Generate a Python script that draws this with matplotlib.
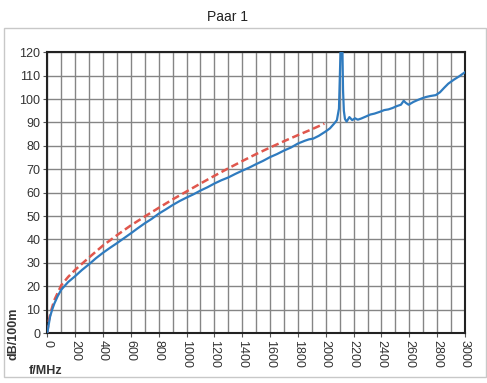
import matplotlib
matplotlib.use("Agg")
import matplotlib.pyplot as plt
from matplotlib.patches import Rectangle
import numpy as np

plt.rcParams["font.family"] = ["Liberation Sans", "DejaVu Sans"]

# measured attenuation (blue)
meas_f = [0, 10, 20, 35, 50, 75, 100, 150, 200, 250, 300, 350, 400, 450, 500,
          550, 600, 650, 700, 750, 800, 850, 900, 950, 1000, 1050, 1100, 1150,
          1200, 1250, 1300, 1350, 1400, 1450, 1500, 1550, 1600, 1650, 1700,
          1750, 1800, 1850, 1880, 1910, 1950, 2000, 2030, 2060, 2080, 2095,
          2105, 2112, 2118, 2124, 2130, 2138, 2150, 2170, 2190, 2210, 2230,
          2255, 2290, 2320, 2350, 2390, 2420, 2450, 2480, 2510, 2540, 2560,
          2575, 2595, 2630, 2660, 2690, 2720, 2750, 2790, 2820, 2850, 2880,
          2920, 2960, 3000]
meas_db = [0, 3.5, 7, 10, 12.5, 15.8, 18.5, 21.8, 24.3, 27, 29.4, 32, 34.3,
           36.4, 38.4, 40.5, 42.6, 44.8, 46.9, 48.8, 51, 52.8, 54.7, 56.4, 57.9,
           59.3, 60.9, 62.3, 63.9, 65.3, 66.5, 68, 69.4, 70.7, 72.2, 73.6, 75.2,
           76.5, 78, 79.3, 81, 82.2, 82.8, 83.1, 84.3, 86.2, 87.5, 89.5, 91,
           96, 118, 135, 128, 104, 95, 91.5, 90.4, 92.3, 91, 91.8, 91.2, 91.7,
           92.6, 93.4, 93.8, 94.6, 95.3, 95.6, 96.2, 97, 97.6, 99.3, 98.4, 97.6,
           98.8, 99.6, 100.3, 100.9, 101.3, 101.7, 102.9, 104.8, 106.6, 108.3,
           109.8, 111.5]

# nominal limit (red dashed)
limit_f = [0, 10, 25, 50, 100, 150, 200, 300, 400, 500, 600, 700, 800, 900,
           1000, 1100, 1200, 1300, 1400, 1500, 1600, 1700, 1800, 1900, 1990]
limit_db = [0, 5, 9, 14, 20.4, 24, 27, 32.3, 37.4, 41.8, 46, 49.8, 53.5, 57.1,
            60.5, 63.9, 67.2, 70.4, 73.5, 76.5, 79.3, 82, 84.6, 87.1, 89.5]

x_major = np.arange(0, 3001, 200)
x_minor = np.arange(0, 3001, 100)
y_major = np.arange(0, 121, 10)

fig = plt.figure(figsize=(4.87, 3.83), dpi=100)
fig.patches.append(Rectangle((0.008, 0.015), 0.99, 0.912, transform=fig.transFigure,
                             fill=False, edgecolor="#c8c8c8", linewidth=1.0))
fig.text(0.468, 0.955, "Paar 1", ha="center", va="center", fontsize=10, color="#222222")

ax = fig.add_axes([0.0971, 0.1305, 0.8577, 0.7329])
ax.plot(limit_f, limit_db, color="#e0574d", linewidth=1.8, linestyle=(0, (3.0, 1.5)),
        zorder=3)
ax.plot(meas_f, meas_db, color="#2f7bbf", linewidth=1.6, zorder=4)

ax.set_xlim(0, 3000)
ax.set_ylim(0, 120)
ax.set_xticks(x_major)
ax.set_xticks(x_minor, minor=True)
ax.set_yticks(y_major)
ax.set_xticklabels([str(v) for v in x_major], rotation=-90)
ax.tick_params(axis="both", which="major", labelsize=9, labelcolor="#333333",
               length=3, width=0.8, color="#555555", pad=2)
ax.tick_params(axis="x", which="minor", length=0)
ax.grid(True, which="both", color="#858585", linewidth=1.0)
ax.set_axisbelow(True)
for s in ax.spines.values():
    s.set_linewidth(1.5)
    s.set_color("#222222")

fig.text(0.027, 0.128, "dB/100m", rotation=90, ha="center", va="center",
         fontsize=9, fontweight="bold", color="#333333")
fig.text(0.093, 0.031, "f/MHz", ha="center", va="center",
         fontsize=9, fontweight="bold", color="#333333")

fig.savefig("out.png", dpi=100)
